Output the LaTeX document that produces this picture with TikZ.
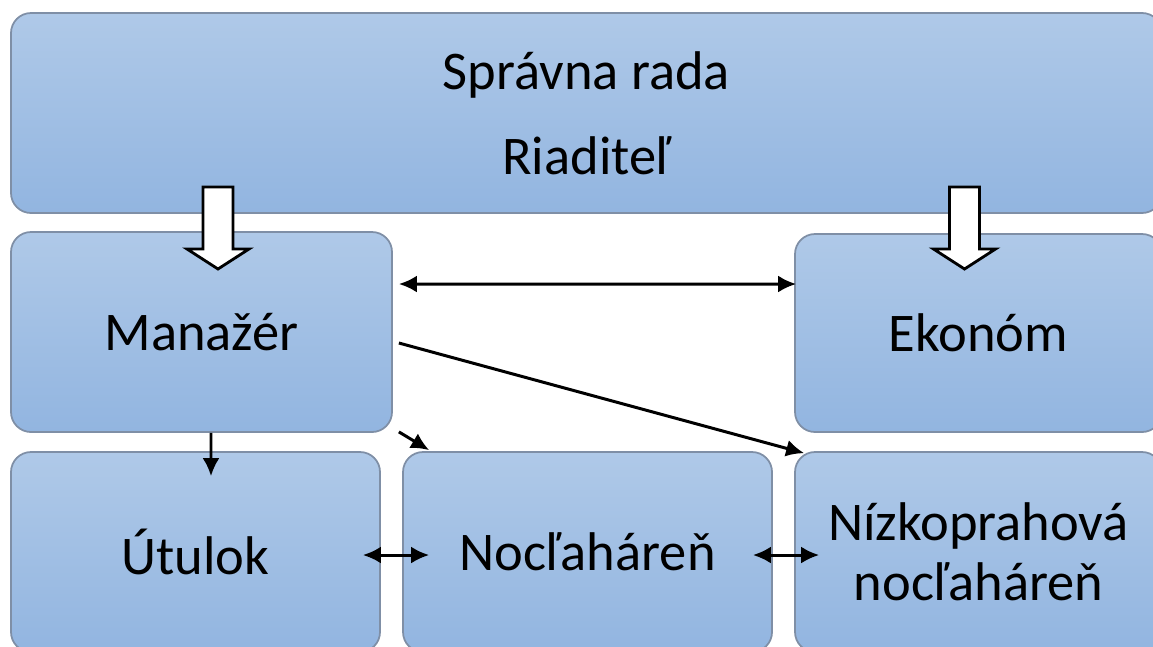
\documentclass[tikz,border=0pt]{standalone}
\usepackage{fontspec}
\setmainfont{Carlito}
\usepackage{tikz}
\usetikzlibrary{arrows.meta,positioning}
\definecolor{boxtop}{HTML}{AFC9E8}
\definecolor{boxbottom}{HTML}{92B5E0}
\definecolor{boxline}{HTML}{7F8FA6}
\tikzset{
  orgbox/.style={rectangle,rounded corners=0.2cm,draw=boxline,line width=0.5pt,
    top color=boxtop,bottom color=boxbottom,minimum height=2cm,inner sep=0pt,
    font=\fontsize{15.5}{17}\selectfont,align=center},
  link/.style={line width=0.85pt,-{Latex[length=1.8mm,width=1.7mm]}},
  dlink/.style={line width=0.85pt,{Latex[length=1.8mm,width=1.7mm]}-{Latex[length=1.8mm,width=1.7mm]}}
}
% hollow block arrow pointing down, #1 = x of its axis
\newcommand{\downblock}[1]{%
  \draw[line width=0.8pt,fill=white] ({#1-0.15},-1.87) -- ({#1+0.15},-1.87) -- ({#1+0.15},-2.49)
    -- ({#1+0.31},-2.49) -- (#1,-2.69) -- ({#1-0.31},-2.49) -- ({#1-0.15},-2.49) -- cycle;}

\begin{document}
\begin{tikzpicture}
% \draw[help lines] (0,0) grid (11.53,-6.46);
\useasboundingbox (0,0) rectangle (11.53,-6.46);
\clip (0,0) rectangle (11.53,-6.46);
\node (rada) [orgbox,minimum width=11.51cm,font=\fontsize{15.5}{24.2}\selectfont] at (5.865,-1.13) {Správna rada\\Riaditeľ};
\node (manazer) [orgbox,minimum width=3.81cm] at (2.015,-3.32) {Manažér};
\node (ekonom) [orgbox,minimum width=3.67cm,minimum height=1.98cm] at (9.785,-3.33) {Ekonóm};
\node (utulok) [orgbox,minimum width=3.69cm] at (1.955,-5.52) {Útulok};
\node (noclaharen) [orgbox,minimum width=3.69cm] at (5.875,-5.52) {Nocľaháreň};
\node (nizko) [orgbox,minimum width=3.67cm] at (9.785,-5.52) {Nízkoprahová\\nocľaháreň};
%
\downblock{2.18}
\downblock{9.645}
%
\draw[dlink] ([shift={(0.06,0.48)}]manazer.east) -- ([shift={(0.02,0.49)}]ekonom.west);
\draw[link] ([shift={(0.06,-0.11)}]manazer.east) -- ([shift={(0.10,-0.02)}]nizko.north west);
\draw[link] ([shift={(0.06,0.01)}]manazer.south east) -- ([shift={(0.27,0.01)}]noclaharen.north west);
\draw[link] ([xshift=0.095cm]manazer.south) -- ([shift={(0.155,-0.25)}]utulok.north);
\draw[dlink] ([shift={(-0.18,-0.03)}]utulok.east) -- ([shift={(0.27,-0.03)}]noclaharen.west);
\draw[dlink] ([shift={(-0.20,-0.03)}]noclaharen.east) -- ([shift={(0.25,-0.03)}]nizko.west);
\end{tikzpicture}
\end{document}
